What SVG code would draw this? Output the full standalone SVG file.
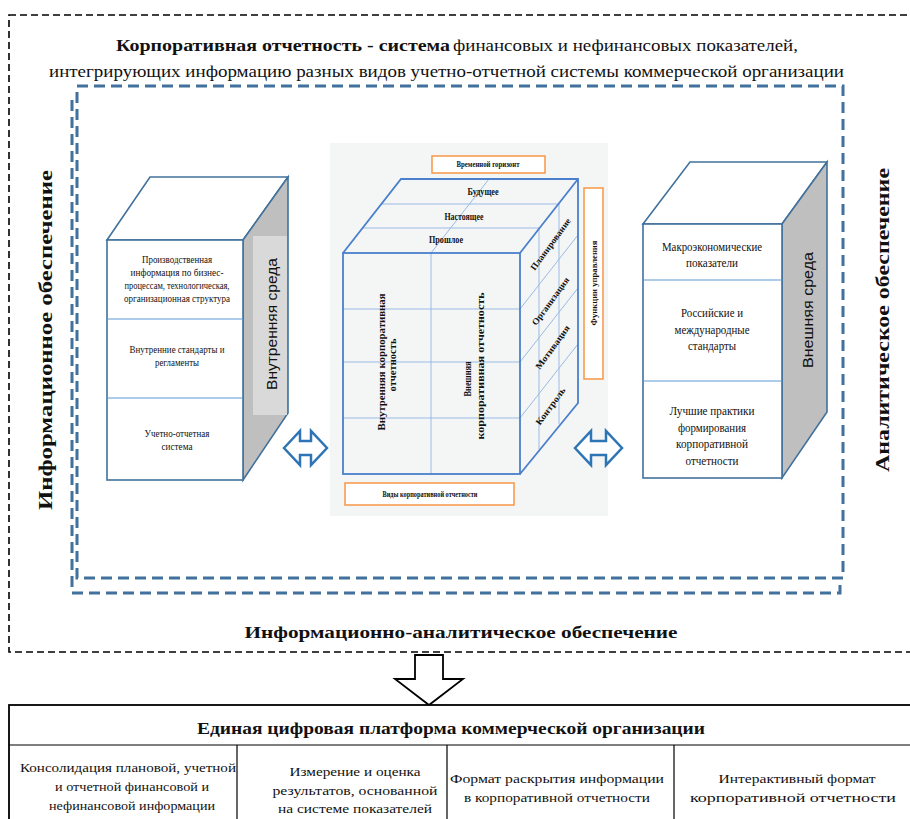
<svg xmlns="http://www.w3.org/2000/svg" width="910" height="819" viewBox="0 0 910 819">
<style>
text{font-family:"Liberation Serif","Times New Roman",serif;fill:#111}
.b{font-weight:bold}
.sans{font-family:"Liberation Sans",Arial,sans-serif}
.box{fill:#fff;stroke:#41719c;stroke-width:1.6}
.div{stroke:#5b9bd5;stroke-width:1.2;fill:none}
.side{fill:#bfbfbf;stroke:#41719c;stroke-width:1.6}
.cube{fill:none;stroke:#4a7fcb;stroke-width:1.8}
.cl{fill:none;stroke:#9bb9e4;stroke-width:1}
.org{fill:#fff;stroke:#f79646;stroke-width:1.5}
.darr{fill:#fff;stroke:#2e75b6;stroke-width:2.5;stroke-linejoin:miter}
.bl{stroke:#000;stroke-width:1.2}
</style>

<!-- outer black dashed frame -->
<rect x="9" y="15" width="920" height="637" fill="none" stroke="#000" stroke-width="1.6" stroke-dasharray="7,4"/>

<!-- titles -->
<g id="title">
<text class="b" x="116" y="51" font-size="17" textLength="334" lengthAdjust="spacingAndGlyphs">Корпоративная отчетность -  система</text>
<text x="453" y="51" font-size="17" textLength="345" lengthAdjust="spacingAndGlyphs">финансовых и нефинансовых  показателей,</text>
<text x="49" y="77" font-size="17" textLength="795" lengthAdjust="spacingAndGlyphs">интегрирующих  информацию  разных  видов учетно-отчетной системы коммерческой организации</text>
</g>

<!-- blue dashed frame -->
<g id="frame" fill="none" stroke="#41719c" stroke-width="3" stroke-dasharray="11,6">
<rect x="77" y="86" width="766" height="492"/>
<path d="M72,100 V593 H840 V580"/>
</g>

<g id="label-left">
<text class="b" font-size="19" text-anchor="middle" transform="translate(52,340) rotate(-90)" textLength="340" lengthAdjust="spacingAndGlyphs">Информационное   обеспечение</text>
</g>
<g id="label-right">
<text class="b" font-size="19" text-anchor="middle" transform="translate(889,320) rotate(-90)" textLength="304" lengthAdjust="spacingAndGlyphs">Аналитическое   обеспечение</text>
</g>
<g id="label-bottom">
<text class="b" x="461" y="638" font-size="17" text-anchor="middle" textLength="433" lengthAdjust="spacingAndGlyphs">Информационно-аналитическое   обеспечение</text>
</g>

<!-- left box -->
<g id="internal">
<polygon class="box" points="107,240 150,177 288,177 243,240"/>
<polygon class="side" points="243,240 288,177 288,413 243,480"/>
<rect x="253" y="236" width="34" height="179" fill="#d9d9d9"/>
<rect class="box" x="107" y="240" width="136" height="240"/>
<line class="div" x1="107" y1="319" x2="243" y2="319"/>
<line class="div" x1="107" y1="398" x2="243" y2="398"/>
<g font-size="11" text-anchor="middle">
<text x="177" y="263" textLength="70" lengthAdjust="spacingAndGlyphs">Производственная</text>
<text x="177" y="276" textLength="93" lengthAdjust="spacingAndGlyphs">информация по бизнес-</text>
<text x="177" y="289" textLength="105" lengthAdjust="spacingAndGlyphs">процессам, технологическая,</text>
<text x="177" y="302" textLength="106" lengthAdjust="spacingAndGlyphs">организационная структура</text>
<text x="177" y="353" textLength="95" lengthAdjust="spacingAndGlyphs">Внутренние стандарты и</text>
<text x="177" y="366" textLength="44" lengthAdjust="spacingAndGlyphs">регламенты</text>
<text x="177" y="437" textLength="65" lengthAdjust="spacingAndGlyphs">Учетно-отчетная</text>
<text x="177" y="450" textLength="31" lengthAdjust="spacingAndGlyphs">система</text>
</g>
<text class="sans" font-size="15" text-anchor="middle" transform="translate(277,324) rotate(-90)" textLength="132" lengthAdjust="spacingAndGlyphs">Внутренняя среда</text>
</g>

<!-- center cube -->
<g id="cube">
<rect x="330" y="143" width="278" height="373" fill="#f4f6f6"/>
<rect class="org" x="432" y="156" width="113" height="17"/>
<text class="b" x="488" y="167" font-size="9" text-anchor="middle" textLength="63" lengthAdjust="spacingAndGlyphs">Временной горизонт</text>
<rect class="org" x="584" y="188" width="19" height="191"/>
<text class="b" font-size="9" text-anchor="middle" transform="translate(597,283) rotate(-90)" textLength="85" lengthAdjust="spacingAndGlyphs">Функции управления</text>
<rect class="org" x="345" y="483" width="169" height="22"/>
<text class="b" x="430" y="497" font-size="9" text-anchor="middle" textLength="95" lengthAdjust="spacingAndGlyphs">Виды корпоративной отчетности</text>
<!-- inner lines -->
<path class="cl" d="M362,228 H539 M382,204 H559 M431,253 L489,179 M431,253 V474 M343,309 H520 L578,235 M343,362 H520 L578,288 M343,418 H520 L578,344 M539,228 V449 M559,204 V424"/>
<!-- outline -->
<path class="cube" d="M343,253 L401,179 H578 V403 L520,474 M520,253 L578,179"/>
<rect class="cube" x="343" y="253" width="177" height="221"/>
<g class="b" font-size="10" text-anchor="middle">
<text x="483" y="195" textLength="31" lengthAdjust="spacingAndGlyphs">Будущее</text>
<text x="464" y="220" textLength="39" lengthAdjust="spacingAndGlyphs">Настоящее</text>
<text x="446" y="243" textLength="34" lengthAdjust="spacingAndGlyphs">Прошлое</text>
<text transform="translate(385,362) rotate(-90)" font-size="11" textLength="137" lengthAdjust="spacingAndGlyphs">Внутренняя корпоративная</text>
<text transform="translate(396,365) rotate(-90)" font-size="11" textLength="53" lengthAdjust="spacingAndGlyphs">отчетность</text>
<text transform="translate(471,379) rotate(-90)" font-size="11" textLength="35" lengthAdjust="spacingAndGlyphs">Внешняя</text>
<text transform="translate(484,366) rotate(-90)" font-size="11" textLength="147" lengthAdjust="spacingAndGlyphs">корпоративная отчетность</text>
<text transform="translate(553,246) rotate(-54)" font-size="9" textLength="62" lengthAdjust="spacingAndGlyphs">Планирование</text>
<text transform="translate(553,303) rotate(-54)" font-size="9" textLength="57" lengthAdjust="spacingAndGlyphs">Организация</text>
<text transform="translate(555,349) rotate(-54)" font-size="9" textLength="52" lengthAdjust="spacingAndGlyphs">Мотивация</text>
<text transform="translate(553,408) rotate(-54)" font-size="9" textLength="44" lengthAdjust="spacingAndGlyphs">Контроль</text>
</g>
</g>

<!-- right box -->
<g id="external">
<polygon class="box" points="643,224 690,162 827,162 782,224"/>
<polygon class="side" points="782,224 827,162 827,412 782,478"/>
<rect class="box" x="643" y="224" width="139" height="254"/>
<line class="div" x1="643" y1="280" x2="782" y2="280"/>
<line class="div" x1="643" y1="381" x2="782" y2="381"/>
<g font-size="12.5" text-anchor="middle">
<text x="712" y="251" textLength="100" lengthAdjust="spacingAndGlyphs">Макроэкономические</text>
<text x="712" y="267" textLength="52" lengthAdjust="spacingAndGlyphs">показатели</text>
<text x="712" y="317" textLength="62" lengthAdjust="spacingAndGlyphs">Российские и</text>
<text x="712" y="334" textLength="75" lengthAdjust="spacingAndGlyphs">международные</text>
<text x="712" y="350" textLength="48" lengthAdjust="spacingAndGlyphs">стандарты</text>
<text x="712" y="415" textLength="85" lengthAdjust="spacingAndGlyphs">Лучшие практики</text>
<text x="712" y="432" textLength="68" lengthAdjust="spacingAndGlyphs">формирования</text>
<text x="712" y="448" textLength="72" lengthAdjust="spacingAndGlyphs">корпоративной</text>
<text x="712" y="465" textLength="53" lengthAdjust="spacingAndGlyphs">отчетности</text>
</g>
<text class="sans" font-size="15" text-anchor="middle" transform="translate(813,310) rotate(-90)" textLength="116" lengthAdjust="spacingAndGlyphs">Внешняя среда</text>
</g>

<!-- connectors -->
<g id="connectors">
<polygon class="darr" points="284,448 300,431 300,441 311,441 311,431 327,448 311,465 311,455 300,455 300,465"/>
<polygon class="darr" points="575,448 591,431 591,441 606,441 606,431 622,448 606,465 606,455 591,455 591,465"/>
<polygon fill="#fff" stroke="#000" stroke-width="1.8" points="415,655 443,655 443,679 463,679 429,705 395,679 415,679"/>
</g>

<!-- bottom platform -->
<g id="platform">
<rect x="9" y="705" width="920" height="130" fill="#fff" stroke="#000" stroke-width="1.8"/>
<line class="bl" x1="9" y1="745" x2="910" y2="745"/>
<line class="bl" x1="237" y1="745" x2="237" y2="819"/>
<line class="bl" x1="447" y1="745" x2="447" y2="819"/>
<line class="bl" x1="674" y1="745" x2="674" y2="819"/>
<text class="b" x="451" y="734" font-size="16" text-anchor="middle" textLength="508" lengthAdjust="spacingAndGlyphs">Единая цифровая платформа коммерческой организации</text>
<g font-size="13" text-anchor="middle">
<text x="128" y="772" textLength="216" lengthAdjust="spacingAndGlyphs">Консолидация  плановой, учетной</text>
<text x="132" y="791" textLength="154" lengthAdjust="spacingAndGlyphs">и отчетной финансовой  и</text>
<text x="132" y="810" textLength="166" lengthAdjust="spacingAndGlyphs">нефинансовой информации</text>
<text x="355" y="776" textLength="131" lengthAdjust="spacingAndGlyphs">Измерение и оценка</text>
<text x="355" y="795" textLength="165" lengthAdjust="spacingAndGlyphs">результатов,  основанной</text>
<text x="355" y="813" textLength="154" lengthAdjust="spacingAndGlyphs">на системе показателей</text>
<text x="557" y="783" textLength="214" lengthAdjust="spacingAndGlyphs">Формат раскрытия информации</text>
<text x="557" y="802" textLength="186" lengthAdjust="spacingAndGlyphs">в корпоративной отчетности</text>
<text x="797" y="783" textLength="157" lengthAdjust="spacingAndGlyphs">Интерактивный  формат</text>
<text x="793" y="802" textLength="206" lengthAdjust="spacingAndGlyphs">корпоративной отчетности</text>
</g>
</g>
</svg>
